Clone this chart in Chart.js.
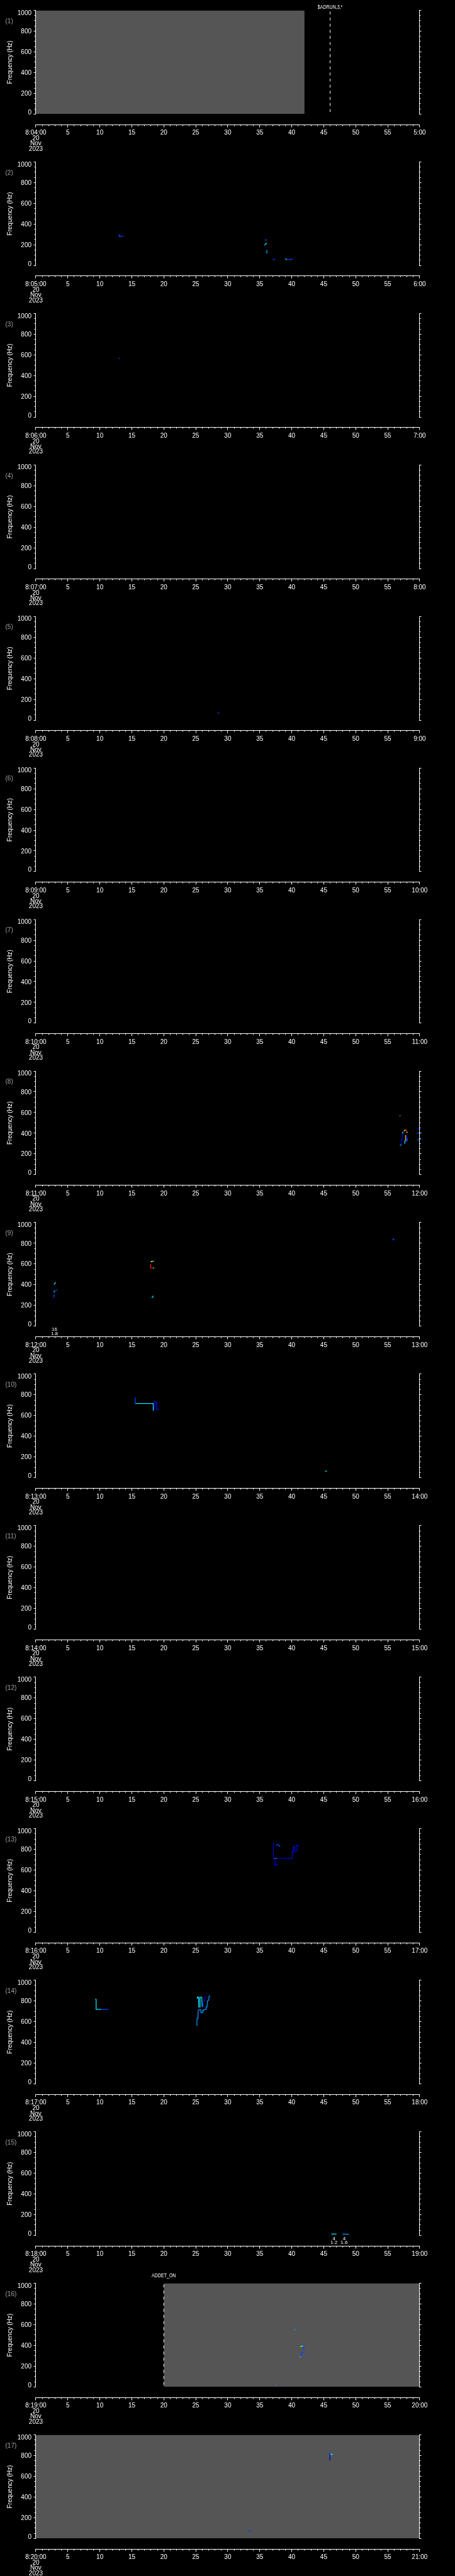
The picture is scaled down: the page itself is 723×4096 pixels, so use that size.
<!DOCTYPE html>
<html>
<head>
<meta charset="utf-8">
<script src="https://cdn.jsdelivr.net/npm/chart.js@4.4.0/dist/chart.umd.min.js"></script>
<style>
  html, body { margin: 0; padding: 0; background: #000; }
  #wrap { position: relative; width: 723px; height: 4096px; overflow: hidden; background: #000; }
  #wrap canvas { position: absolute; left: 0; }
</style>
</head>
<body>
<div id="wrap"></div>
<script>
// time axis: seconds within each one-minute panel
const startLabels = ['8:04:00', '8:05:00', '8:06:00', '8:07:00', '8:08:00', '8:09:00', '8:10:00', '8:11:00',
  '8:12:00', '8:13:00', '8:14:00', '8:15:00', '8:16:00', '8:17:00', '8:18:00', '8:19:00', '8:20:00'];
const endLabels = ['5:00', '6:00', '7:00', '8:00', '9:00', '10:00', '11:00', '12:00', '13:00',
  '14:00', '15:00', '16:00', '17:00', '18:00', '19:00', '20:00', '21:00'];
const dateLines = ['20', 'Nov', '2023'];
const xTicks = [0, 5, 10, 15, 20, 25, 30, 35, 40, 45, 50, 55, 60];
const xTickLabels = [null, '5', '10', '15', '20', '25', '30', '35', '40', '45', '50', '55', null];
const yTicks = [0, 200, 400, 600, 800, 1000];
const yTickLabels = ['0', '200', '400', '600', '800', '1000'];
const yTitle = 'Frequency (Hz)';

// grey (data) blocks
const grayPanels = [1, 16, 17];
const grayFrom = [0, 20, 0];
const grayTo = [42, 60, 60];

// event markers (dashed lines)
const eventPanels = [1, 16];
const eventTimes = [46, 20];
const eventTexts = ['$ADRUN,3,*', 'ADDET_ON'];

// little numbers under detections
const notePanels = [9, 15, 15];
const noteTimes = [2.9, 46.6, 48.2];
const noteTop = ['16', '4', '4'];
const noteBottom = ['1.8', '1.2', '1.6'];

const colors = {
  db: '#0000e0', b: '#0040ff', lb: '#0095ff', c: '#00e5ff',
  g: '#66ff99', y: '#eeee00', o: '#ffaa00', r: '#ff1100'
};

// traces: [colour, seconds, Hz]
const tracesP2 = [
  ['b', [13.0, 13.0, 13.7], [303, 282, 282]],
  ['y', [13.0, 13.25], [283, 283]],
  ['b', [35.81, 36.13], [247, 247]],
  ['c', [35.74, 35.95, 36.13], [194, 210, 217]],
  ['lb', [36.13, 36.13, 35.95], [151, 123, 123]],
  ['b', [37.03, 37.4], [59, 59]],
  ['c', [38.99, 39.2], [68, 56]],
  ['b', [39.2, 39.84, 39.9, 40.2], [56, 56, 63, 63]]
];
const tracesP3 = [['b', [12.9, 13.1], [567, 567]]];
const tracesP5 = [['b', [28.4, 28.7], [68, 68]]];
const tracesP8 = [
  ['c', [56.85, 57.0], [570, 570]],
  ['c', [56.91, 57.14], [286, 286]],
  ['db', [57.14, 57.14, 57.3, 57.3], [286, 339, 339, 396]],
  ['c', [57.3, 57.42], [396, 414]],
  ['y', [57.55, 57.7, 57.79], [420, 430, 430]],
  ['r', [57.79, 57.95, 57.95], [430, 430, 410]],
  ['g', [57.95, 58.12], [407, 407]],
  ['o', [57.79, 57.79], [383, 327]],
  ['c', [57.68, 57.68, 57.79], [298, 327, 327]],
  ['b', [57.95, 57.95, 58.05, 58.05, 58.2], [380, 323, 323, 346, 346]],
  ['db', [59.57, 59.8, 60.0], [432, 443, 443]],
  ['b', [59.57, 59.69, 59.92, 60.0, 60.27, 60.38, 60.5, 60.61, 60.89], [396, 400, 403, 407, 410, 403, 399, 407, 410]],
  ['b', [59.64, 59.87, 60.27, 60.38, 60.43, 60.5, 60.85], [335, 339, 343, 343, 325, 300, 293]],
  ['c', [59.6, 59.7], [335, 335]]
];
const tracesP9 = [
  ['c', [2.83, 3.1], [402, 423]],
  ['c', [2.8, 2.95], [327, 341]],
  ['b', [2.95, 3.12, 3.39], [341, 344, 352]],
  ['b', [2.8, 2.8, 2.97], [273, 299, 299]],
  ['y', [17.98, 18.07, 18.3], [616, 626, 626]],
  ['g', [18.3, 18.44], [626, 630]],
  ['r', [17.94, 17.94, 18.3], [599, 562, 562]],
  ['c', [18.3, 18.5], [562, 562]],
  ['c', [18.07, 18.3, 18.3], [280, 280, 294]],
  ['b', [55.86, 55.86, 56.1], [849, 834, 834]]
];
const tracesP10 = [
  ['b', [15.53, 15.53], [776, 716]],
  ['c', [15.53, 18.35, 18.35], [716, 716, 647]],
  ['db', [18.35, 18.48, 18.61, 18.8, 18.88, 19.3], [647, 657, 736, 733, 661, 658]],
  ['c', [45.2, 45.5], [64, 64]]
];
const tracesP13 = [
  ['db', [37.14, 37.14, 40.12], [866, 714, 714]],
  ['g', [37.2, 37.7], [714, 714]],
  ['db', [40.12, 40.12, 40.24, 40.28, 40.47, 40.47, 40.7, 40.82, 40.82, 41.12], [714, 788, 788, 831, 831, 778, 778, 795, 842, 831]],
  ['b', [37.53, 37.7, 37.88, 38.0, 38.22], [835, 848, 848, 835, 829]],
  ['db', [37.25, 37.39, 37.39, 37.57, 37.75, 37.83], [691, 691, 642, 652, 655, 663]]
];
const tracesP14 = [
  ['c', [9.28, 9.42, 9.42, 10.2], [819, 816, 718, 718]],
  ['b', [10.2, 11.37], [718, 718]],
  ['lb', [25.19, 25.19, 25.3, 25.35, 25.42, 25.77, 25.83, 26.0, 26.07, 26.11, 26.3, 26.58, 26.62, 26.76, 26.81, 26.92, 27.04, 27.08, 27.22],
    [558, 632, 632, 694, 715, 715, 686, 686, 715, 701, 715, 718, 743, 743, 793, 808, 808, 846, 848]],
  ['c', [25.19, 25.3, 25.42, 25.47, 25.65, 25.67, 25.93, 26.0], [822, 841, 836, 743, 743, 836, 836, 743]],
  ['db', [26.0, 26.11, 26.2, 26.35, 26.42, 26.58, 26.69], [743, 743, 793, 808, 836, 836, 851]]
];
const tracesP15 = [
  ['c', [46.2, 47.0], [13, 13]],
  ['lb', [47.92, 48.5, 48.96], [13, 13, 9]]
];
const tracesP16 = [
  ['lb', [40.4, 40.47, 40.65], [562, 552, 547]],
  ['y', [41.35, 41.51], [386, 393]],
  ['c', [41.51, 41.85], [394, 394]],
  ['b', [41.85, 41.85, 42.09], [394, 359, 359]],
  ['c', [41.24, 41.4], [293, 290]],
  ['b', [41.4, 41.51, 41.63, 42.04], [290, 326, 329, 329]],
  ['o', [37.53, 37.6], [25, 25]],
  ['b', [37.6, 37.85], [25, 25]]
];
const tracesP17 = [
  ['db', [45.97, 45.97], [752, 825]],
  ['c', [45.97, 46.1, 46.42], [825, 812, 812]],
  ['b', [33.27, 33.45, 33.54], [78, 78, 64]]
];
const tracesByPanel = [[], tracesP2, tracesP3, [], tracesP5, [], [], tracesP8, tracesP9, tracesP10,
  [], [], tracesP13, tracesP14, tracesP15, tracesP16, tracesP17];

const S = 723 / 1024;
const PANEL_H = 4096 / 17;
const FONT = '"Liberation Sans", Arial, sans-serif';
const snap = v => Math.round(v - 0.5) + 0.5;

function text(ctx, s, x, y, size, align, color, sx) {
  ctx.save();
  ctx.font = size + 'px ' + FONT;
  ctx.fillStyle = color || '#fff';
  ctx.textAlign = align;
  ctx.textBaseline = 'alphabetic';
  ctx.translate(x, y);
  if (sx) ctx.scale(sx, 1);
  ctx.fillText(s, 0, 0);
  ctx.restore();
}

const framePlugin = {
  id: 'frame',
  afterDraw(chart, args, o) {
    const { ctx } = chart;
    const x = chart.scales.x, y = chart.scales.y;
    const k = o.panel, off = o.off;
    const L = snap(x.getPixelForValue(0)), R = snap(x.getPixelForValue(60));
    const T = snap(y.getPixelForValue(1000)), B = snap(y.getPixelForValue(0));
    const AX = snap(off + 280.5 * S);

    ctx.save();
    ctx.strokeStyle = '#fff';
    ctx.lineWidth = 1;
    ctx.beginPath();
    ctx.moveTo(L, T); ctx.lineTo(L, B);
    ctx.moveTo(R, T); ctx.lineTo(R, B);
    for (let v = 0; v <= 1000; v += 50) {
      const py = snap(y.getPixelForValue(v));
      const len = yTicks.includes(v) ? 3 : 2;
      ctx.moveTo(L + 0.5, py); ctx.lineTo(L - len, py);
      ctx.moveTo(R - 0.5, py); ctx.lineTo(R + len, py);
    }
    ctx.moveTo(L, AX); ctx.lineTo(R, AX);
    for (let t = 0; t <= 60; t += 1) {
      const px = snap(x.getPixelForValue(t));
      const len = xTicks.includes(t) ? 4 : 2;
      ctx.moveTo(px, AX - 0.5); ctx.lineTo(px, AX + len);
    }
    ctx.stroke();
    ctx.restore();

    // y tick labels
    yTicks.forEach((v, i) => {
      const py = y.getPixelForValue(v);
      let base = py + 3.6;
      if (v === 0) base = py + 0.5;
      if (v === 1000) base = py + 7.2;
      text(ctx, yTickLabels[i], L - 6.5, base, 10, 'right');
    });

    // x tick labels
    xTicks.forEach((t, i) => {
      let lab = xTickLabels[i];
      if (i === 0) lab = startLabels[k - 1];
      if (i === xTicks.length - 1) lab = endLabels[k - 1];
      text(ctx, lab, x.getPixelForValue(t), off + 214.2, 10, 'center');
    });
    const dateBase = [222.8, 231.3, 239.6];
    dateLines.forEach((d, i) => text(ctx, d, x.getPixelForValue(0), off + dateBase[i], 10, 'center'));

    // axis title
    ctx.save();
    ctx.translate(18.6, off + 99);
    ctx.rotate(-Math.PI / 2);
    ctx.font = '10px ' + FONT;
    ctx.fillStyle = '#fff';
    ctx.textAlign = 'center';
    ctx.textBaseline = 'alphabetic';
    ctx.fillText(yTitle, 0, 0);
    ctx.restore();

    // panel number
    text(ctx, '(' + k + ')', 8.5, off + 36.7, 10, 'left', '#a0a0a0');

    // event label
    eventPanels.forEach((p, i) => {
      if (p !== k) return;
      const base = k === 1 ? 14.1 : 6.8;
      text(ctx, eventTexts[i], x.getPixelForValue(eventTimes[i]), off + base, 8.8, 'center', '#fff', 0.8);
    });

    // detection notes
    notePanels.forEach((p, i) => {
      if (p !== k) return;
      const px = x.getPixelForValue(noteTimes[i]);
      text(ctx, noteTop[i], px, off + 188.5, 8, 'center');
      text(ctx, noteBottom[i], px, off + 195.2, 8, 'center');
    });
  }
};

const wrap = document.getElementById('wrap');

for (let k = 1; k <= 17; k++) {
  const exact = (k - 1) * PANEL_H;
  const top = Math.round(exact);
  const H = Math.round(k * PANEL_H) - top;
  const off = exact - top;

  const canvas = document.createElement('canvas');
  canvas.width = 723;
  canvas.height = H;
  canvas.style.top = top + 'px';
  canvas.style.width = '723px';
  canvas.style.height = H + 'px';
  wrap.appendChild(canvas);

  const datasets = [];
  tracesByPanel[k - 1].forEach(([c, ts, fs]) => {
    datasets.push({
      data: ts.map((t, i) => ({ x: t, y: fs[i] })),
      borderColor: colors[c],
      borderWidth: 1.3,
      pointRadius: 0,
      fill: false,
      tension: 0,
      clip: false,
      order: 0
    });
  });
  eventPanels.forEach((p, i) => {
    if (p !== k) return;
    datasets.push({
      data: [{ x: eventTimes[i], y: 1000 }, { x: eventTimes[i], y: 0 }],
      borderColor: '#ffffff',
      borderWidth: 1,
      borderDash: [4.6, 5.1],
      borderDashOffset: -1.9,
      pointRadius: 0,
      fill: false,
      order: 5
    });
  });
  grayPanels.forEach((p, i) => {
    if (p !== k) return;
    datasets.push({
      data: [{ x: grayFrom[i], y: 1000 }, { x: grayTo[i], y: 1000 }],
      borderWidth: 0,
      borderColor: 'rgba(0,0,0,0)',
      backgroundColor: '#555555',
      pointRadius: 0,
      fill: 'origin',
      order: 10
    });
  });

  new Chart(canvas.getContext('2d'), {
    type: 'line',
    data: { datasets },
    options: {
      responsive: false,
      animation: false,
      devicePixelRatio: 1,
      events: [],
      layout: {
        padding: {
          left: 80.7 * S,
          right: 723 - 944.5 * S,
          top: off + 23.3 * S,
          bottom: H - (off + 256.7 * S)
        }
      },
      scales: {
        x: { type: 'linear', min: 0, max: 60, display: false },
        y: { type: 'linear', min: 0, max: 1000, display: false }
      },
      plugins: {
        legend: { display: false },
        tooltip: { enabled: false },
        frame: { panel: k, off: off }
      }
    },
    plugins: [framePlugin]
  });
}
</script>
</body>
</html>
